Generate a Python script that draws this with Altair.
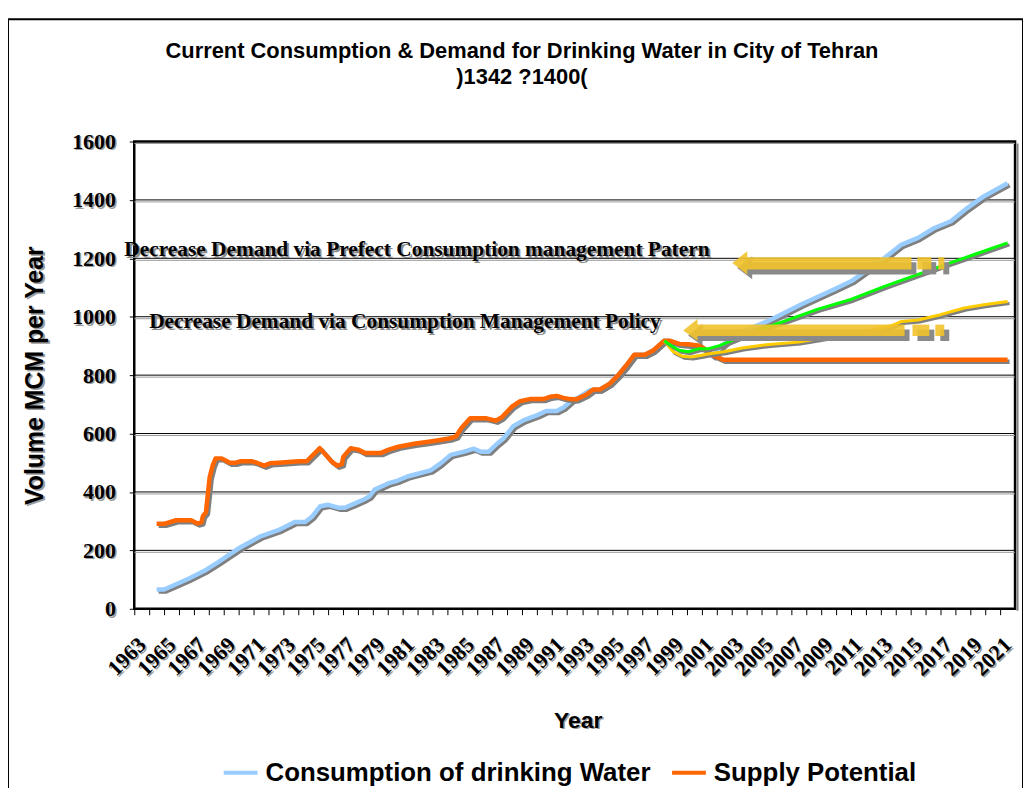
import altair as alt
import pandas as pd

# ---------------- data ----------------
consumption_years = [1964.0, 1964.5, 1965.0, 1966.1, 1967.2, 1968.1, 1969.5, 1971.0, 1972.15, 1973.25,
                     1973.95, 1974.4, 1974.95, 1975.5, 1976.15, 1976.6, 1977.25, 1977.95, 1978.25, 1978.6,
                     1979.5, 1980.15, 1980.8, 1981.25, 1982.35, 1983.0, 1983.7, 1984.6, 1985.25, 1985.7,
                     1986.25, 1986.8, 1987.25, 1987.9, 1988.6, 1989.5, 1990.1, 1990.8, 1991.25, 1991.8,
                     1992.25, 1993.0, 1993.25, 1993.7, 1994.35, 1994.9, 1995.45, 1996.0, 1996.7, 1997.25,
                     1998.0, 1998.35, 1999.0, 1999.6, 2000.4, 2001.3, 2001.7, 2002.8, 2005.0, 2007.2,
                     2009.4, 2010.55, 2011.65, 2012.77, 2013.9, 2015.0, 2016.1, 2017.2, 2018.3, 2019.4,
                     2021.0]
consumption_values = [66, 66, 77, 102, 130, 159, 207, 249, 269, 297,
                      297, 315, 351, 356, 346, 346, 360, 376, 385, 408,
                      429, 439, 453, 459, 474, 497, 527, 538, 548, 538,
                      538, 565, 584, 626, 646, 663, 677, 677, 689, 714,
                      723, 748, 751, 751, 771, 799, 833, 870, 870, 884,
                      918, 918, 907, 905, 898, 865, 893, 941, 986, 1043,
                      1094, 1122, 1162, 1202, 1247, 1270, 1304, 1327, 1372, 1412,
                      1457]

supply_years = [1964.0, 1964.5, 1965.3, 1966.3, 1966.75, 1967.0, 1967.1, 1967.3, 1967.4, 1967.55,
                1967.75, 1967.95, 1968.35, 1968.9, 1969.3, 1969.6, 1970.4, 1970.7, 1971.2, 1971.6,
                1972.4, 1973.5, 1974.05, 1974.93, 1975.7, 1976.1, 1976.4, 1976.5, 1977.0, 1977.5,
                1977.95, 1979.0, 1979.5, 1980.2, 1981.25, 1982.35, 1983.7, 1984.05, 1984.4, 1985.0,
                1986.1, 1986.7, 1987.1, 1987.8, 1988.35, 1989.0, 1989.9, 1990.35, 1990.8, 1991.25,
                1991.7, 1992.1, 1992.8, 1993.25, 1993.7, 1994.35, 1994.9, 1995.45, 1996.0, 1996.7,
                1997.25, 1998.0, 1998.35, 1999.0, 1999.6, 2000.4, 2001.3, 2001.95, 2021.0]
supply_values = [291, 291, 303, 303, 292, 296, 318, 330, 378, 450,
                 490, 515, 515, 500, 500, 505, 505, 500, 490, 498,
                 501, 505, 505, 550, 505, 490, 495, 520, 550, 545,
                 533, 533, 544, 555, 565, 573, 584, 590, 618, 652,
                 652, 644, 655, 692, 711, 718, 718, 726, 729, 722,
                 718, 717, 734, 751, 751, 771, 799, 833, 870, 870,
                 884, 918, 918, 907, 906, 901, 867, 853, 853]

pattern_years = [1998.0, 1998.5, 1999.0, 1999.6, 2000.3, 2000.9, 2001.7, 2003.9, 2006.1, 2008.3,
                 2010.55, 2012.8, 2015.0, 2017.2, 2018.76, 2021.0]
pattern_values = [918, 900, 885, 880, 890, 890, 901, 947, 986, 1026,
                  1060, 1105, 1145, 1185, 1213, 1253]

policy_years = [1998.0, 1998.6, 1999.2, 1999.8, 2000.5, 2001.0, 2002.0, 2003.2, 2005.0, 2007.0,
                2009.5, 2011.5, 2013.2, 2013.9, 2015.0, 2016.5, 2018.1, 2019.4, 2021.0]
policy_values = [918, 880, 865, 862, 868, 873, 880, 893, 905, 913,
                 935, 950, 969, 984, 989, 1007, 1030, 1041, 1052]

series_names = ["Consumption of drinking Water", "Supply Potential",
                "Decrease Demand via Prefect Consumption management Patern",
                "Decrease Demand via Consumption Management Policy"]
series_colors = ["#99CCFF", "#FF6600", "#00FF00", "#FFCC00"]

y_ticks = [0, 200, 400, 600, 800, 1000, 1200, 1400, 1600]
x_years = list(range(1963, 2022))
x_label_years = list(range(1963, 2022, 2))

title_lines = ["Current Consumption & Demand for Drinking Water in City of Tehran", ")1342 ?1400("]
x_title = "Year"
y_title = "Volume MCM per Year"

# annotation texts with their anchor (year, value)
ann_text = ["Decrease Demand via Prefect Consumption management Patern",
            "Decrease Demand via Consumption Management Policy"]
ann_year = [1961.83, 1963.5]
ann_value = [1207, 963]

# block arrows (pointing left), in data units
arrow_id = ["pattern", "policy"]
arrow_tip = [2002.56, 1999.27]
arrow_mid = [1184, 953]
arrow_head_base = [2003.56, 2000.23]
arrow_head_top = [1224, 992]
arrow_head_bottom = [1145, 918]
arrow_body_end = [2014.56, 2014.1]
arrow_body_top = [1204, 973]
arrow_body_bottom = [1162, 934]
dash1_start = [2014.96, 2014.63]
dash1_end = [2015.89, 2015.76]
dash2_start = [2016.36, 2016.16]
dash2_end = [2016.76, 2016.76]

# ---------------- tables ----------------
def series_df(years, values, name):
    return pd.DataFrame({"year": years, "value": values, "series": name})

df_cons = series_df(consumption_years, consumption_values, series_names[0])
df_sup = series_df(supply_years, supply_values, series_names[1])
df_pat = series_df(pattern_years, pattern_values, series_names[2])
df_pol = series_df(policy_years, policy_values, series_names[3])

head_rows = []
for i, a in enumerate(arrow_id):
    head_rows.append({"arrow": a, "year": arrow_tip[i], "value": arrow_mid[i], "value2": arrow_mid[i]})
    head_rows.append({"arrow": a, "year": arrow_head_base[i], "value": arrow_head_top[i],
                      "value2": arrow_head_bottom[i]})
df_head = pd.DataFrame(head_rows)

rect_rows = []
for i, a in enumerate(arrow_id):
    for s, e in [(arrow_head_base[i] - 0.05, arrow_body_end[i]), (dash1_start[i], dash1_end[i]),
                 (dash2_start[i], dash2_end[i])]:
        rect_rows.append({"arrow": a, "year": s, "year2": e,
                          "value": arrow_body_top[i], "value2": arrow_body_bottom[i]})
df_rect = pd.DataFrame(rect_rows)

df_ann = pd.DataFrame({"text": ann_text, "year": ann_year, "value": ann_value})
df_grid = pd.DataFrame({"value": y_ticks[1:-1]})
df_grid_shadow = pd.DataFrame({"value": y_ticks[1:]})
df_ylab = pd.DataFrame({"value": y_ticks, "label": [str(v) for v in y_ticks]})
df_xlab = pd.DataFrame({"year": x_label_years, "label": [str(v) for v in x_label_years]})
df_one = pd.DataFrame({"k": [0]})

# ---------------- encodings ----------------
W, H = 886, 470
xscale = alt.Scale(domain=[1962.5, 2021.5], nice=False, zero=False)
yscale = alt.Scale(domain=[0, 1600], nice=False, zero=True)
half = W / 59 / 2

SERIF = "Liberation Serif"
SANS = "Liberation Sans"
LAB_SIZE = 22
X_TICK, X_PAD = 6, 26
Y_TICK, Y_PAD = 5, 14
XT_X, XT_Y = W / 2 + 3, 119
YT_X, YT_Y = -92, H / 2
XT_SIZE = 23
YT_SIZE = 25

x_axis = alt.Axis(
    values=x_years,
    labelExpr="(datum.value - 1963) % 2 == 0 ? '' + datum.value : ''",
    labelAngle=-45, labelAlign="right", labelBaseline="middle",
    labelFont=SERIF, labelFontWeight="bold", labelFontSize=LAB_SIZE, labelColor="black",
    tickOffset=-half, labelOffset=half, tickSize=X_TICK, tickColor="black", tickWidth=1,
    labelPadding=X_PAD, labelOverlap=False, labelBound=False, labelFlush=False,
    domain=False, grid=False, zindex=1,
    title=x_title, titleFont=SANS, titleFontSize=XT_SIZE, titleFontWeight="bold",
    titleColor="black", titleX=XT_X, titleY=XT_Y, titleAlign="center", titleBaseline="alphabetic",
)
y_axis = alt.Axis(
    values=y_ticks, format="d", grid=False, domain=False, zindex=1,
    tickSize=Y_TICK, tickColor="black", labelFont=SERIF, labelFontWeight="bold",
    labelFontSize=LAB_SIZE, labelColor="black", labelPadding=Y_PAD,
    title=y_title, titleFont=SANS, titleFontSize=YT_SIZE, titleFontWeight="bold",
    titleColor="black", titleAngle=270, titleX=YT_X, titleY=YT_Y, titleAlign="center",
    titleBaseline="alphabetic",
)

X = alt.X("year:Q", scale=xscale, axis=x_axis)
Y = alt.Y("value:Q", scale=yscale, axis=y_axis)

color = alt.Color(
    "series:N",
    scale=alt.Scale(domain=series_names, range=series_colors),
    legend=alt.Legend(
        values=series_names[:2], orient="none", legendX=88, legendY=616, direction="horizontal",
        title=None, symbolType="stroke", symbolStrokeWidth=4, symbolSize=1156,
        labelFont=SANS, labelFontSize=26, labelFontWeight="bold", labelColor="black",
        labelOffset=6, columnPadding=13, padding=0, labelLimit=600,
    ),
)

SHADOW = "#7f7f7f"
TSHADOW = "#9c9c9c"

# frame of the whole chart area
frame = alt.Chart(df_one).mark_rect(fillOpacity=0, stroke="black", strokeWidth=2).encode(
    x=alt.value(-127), x2=alt.value(W + 8), y=alt.value(-123), y2=alt.value(H + 190)
)
border_shadow = alt.Chart(df_one).mark_rule(color=SHADOW, strokeWidth=2).encode(
    x=alt.value(W + 2.5), y=alt.value(2), y2=alt.value(H + 2)
)

grid_shadow = alt.Chart(df_grid_shadow).mark_rule(color="#9a9a9a", strokeWidth=1, yOffset=2).encode(y=Y)
grid = alt.Chart(df_grid).mark_rule(color="black", strokeWidth=1).encode(y=Y)

# shadows of the axis texts (drawn under the axis, which sits on top)
ylab_shadow = alt.Chart(df_ylab).mark_text(
    align="right", baseline="middle", font=SERIF, fontWeight="bold", fontSize=LAB_SIZE,
    color=TSHADOW, yOffset=2).encode(x=alt.value(-(Y_TICK + Y_PAD) + 2), y=Y, text="label:N")
xlab_shadow = alt.Chart(df_xlab).mark_text(
    align="right", baseline="middle", font=SERIF, fontWeight="bold", fontSize=LAB_SIZE,
    color=TSHADOW, angle=315, xOffset=2).encode(x=X, y=alt.value(H + X_TICK + X_PAD + 2), text="label:N")
xt_shadow = alt.Chart(df_one).mark_text(
    align="center", baseline="alphabetic", font=SANS, fontWeight="bold", fontSize=XT_SIZE,
    color=TSHADOW, text=x_title).encode(x=alt.value(XT_X + 2), y=alt.value(H + XT_Y + 2))
yt_shadow = alt.Chart(df_one).mark_text(
    align="center", baseline="alphabetic", font=SANS, fontWeight="bold", fontSize=YT_SIZE,
    color=TSHADOW, text=y_title, angle=270).encode(x=alt.value(YT_X + 2), y=alt.value(YT_Y + 2))

layers = [frame, grid_shadow, grid, border_shadow, ylab_shadow, xlab_shadow, xt_shadow, yt_shadow]
for df, sw in [(df_cons, 4.5), (df_sup, 4.5), (df_pol, 3), (df_pat, 3)]:
    layers.append(alt.Chart(df).mark_line(color=SHADOW, strokeWidth=sw, xOffset=2, yOffset=2,
                                           strokeJoin="round").encode(x=X, y=Y))
    layers.append(alt.Chart(df).mark_line(strokeWidth=sw, strokeJoin="round").encode(
        x=X, y=Y, color=color))

ARROW = "#F0C22A"
head_enc = dict(x=X, y=Y, y2=alt.Y2("value2:Q"), detail="arrow:N")
rect_enc = dict(x=X, x2=alt.X2("year2:Q"), y=Y, y2=alt.Y2("value2:Q"))
layers.append(alt.Chart(df_head).mark_area(color="#8a8a8a", xOffset=5, yOffset=5, y2Offset=5).encode(**head_enc))
layers.append(alt.Chart(df_rect).mark_rect(color="#8a8a8a", xOffset=5, x2Offset=5, yOffset=5, y2Offset=5).encode(**rect_enc))
layers.append(alt.Chart(df_head).mark_area(color=ARROW, opacity=0.9).encode(**head_enc))
layers.append(alt.Chart(df_rect).mark_rect(color=ARROW, opacity=0.9).encode(**rect_enc))

layers.append(alt.Chart(df_ann).mark_text(align="left", baseline="alphabetic", font=SERIF,
                                          fontSize=21.5, fontWeight="bold", color="#8a8a8a", dx=2, dy=2
                                          ).encode(x=X, y=Y, text="text:N"))
layers.append(alt.Chart(df_ann).mark_text(align="left", baseline="alphabetic", font=SERIF,
                                          fontSize=21.5, fontWeight="bold", color="black"
                                          ).encode(x=X, y=Y, text="text:N"))

chart = alt.layer(*layers).properties(
    width=W, height=H, background="white",
    title=alt.TitleParams(text=title_lines, font=SANS, fontSize=22, fontWeight="bold",
                          color="black", anchor="middle", dx=-53, offset=0, dy=71, lineHeight=26),
    padding={"left": 127, "top": 132, "right": 8, "bottom": 178},
    autosize=alt.AutoSizeParams(type="none"),
).configure_view(stroke="black", strokeWidth=2.5).configure_axisX(labelOverlap=False)

chart.save("out.html", embed_options={"renderer": "svg", "actions": False})
